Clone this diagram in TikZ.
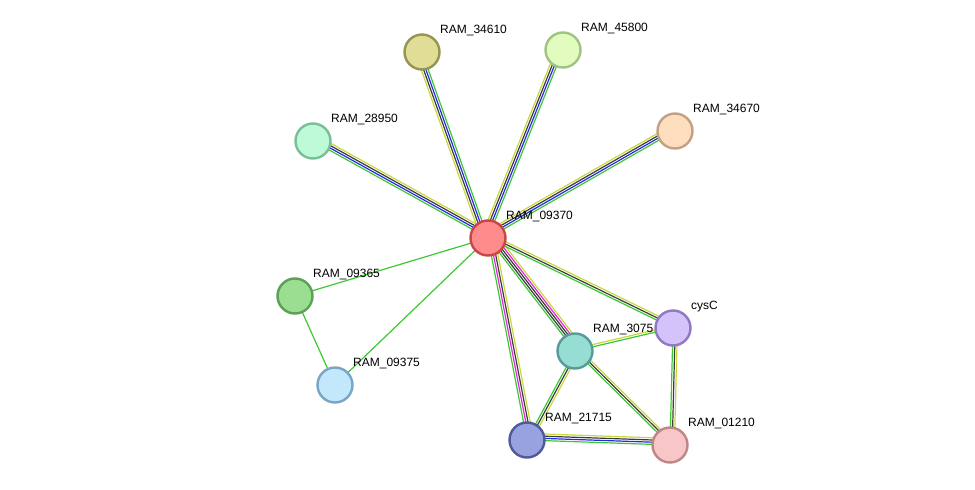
\documentclass[tikz,border=0pt]{standalone}
\usepackage{fontspec}
\setmainfont{Liberation Sans}
\usetikzlibrary{calc}

\definecolor{lgreen}{RGB}{60,200,50}
\definecolor{lyellow}{RGB}{200,215,60}
\definecolor{lblue}{RGB}{40,40,230}
\definecolor{lgrey}{RGB}{60,60,60}
\definecolor{lpink}{RGB}{230,40,220}

\tikzset{
    prot/.style={circle, draw, line width=2.4pt, minimum size=35pt, inner sep=0pt},
    lbl/.style={font=\fontsize{12}{14}\selectfont, anchor=south west, inner sep=1pt},
}
% parallel coloured lines between two nodes
\newcommand{\link}[3]{%
    \foreach \c [count=\i] in {#3} {%
        \pgfmathsetmacro{\off}{(\i-1)*2.2}
        \draw[\c, line width=1.2pt] ($(#1)!\off pt!90:(#2)$) -- ($(#2)!\off pt!-90:(#1)$);
    }%
}

\begin{document}
\begin{tikzpicture}[x=1pt, y=-1pt]
    \useasboundingbox (0,0) rectangle (975,490);
    \coordinate (c09370) at (488,238);
    \coordinate (c34610) at (422,52);
    \coordinate (c45800) at (563,50);
    \coordinate (c34670) at (675,131);
    \coordinate (c28950) at (313,141);
    \coordinate (c09365) at (295,296);
    \coordinate (c09375) at (335,385);
    \coordinate (c3075) at (575,351);
    \coordinate (ccysC) at (673,328);
    \coordinate (c21715) at (527,440);
    \coordinate (c01210) at (670,445);

    % edges
    \link{c09370}{c34610}{lgreen,lblue,lgrey,lyellow}
    \link{c09370}{c45800}{lgreen,lblue,lgrey,lyellow}
    \link{c09370}{c34670}{lgreen,lblue,lgrey,lyellow}
    \link{c28950}{c09370}{lgreen,lblue,lgrey,lyellow}
    \link{c09370}{c09365}{lgreen}
    \link{c09370}{c09375}{lgreen}
    \link{c09365}{c09375}{lgreen}
    \link{c09370}{c3075}{lgreen,lgrey,lgrey,lpink,lyellow}
    \link{c09370}{c21715}{lgreen,lpink,lgrey,lyellow}
    \link{c09370}{ccysC}{lgreen,lgrey,lyellow}
    \link{c3075}{ccysC}{lgreen,lyellow}
    \link{c3075}{c21715}{lgreen,lgrey,lyellow}
    \link{c3075}{c01210}{lgreen,lgrey,lyellow}
    \link{ccysC}{c01210}{lgreen,lgrey,lyellow}
    \link{c21715}{c01210}{lgreen,lblue,lgrey,lyellow}

    % proteins
    \node[prot, fill={rgb,255:red,255;green,140;blue,140}, draw={rgb,255:red,200;green,70;blue,70}] (09370) at (c09370) {};
    \node[prot, fill={rgb,255:red,223;green,221;blue,150}, draw={rgb,255:red,150;green,148;blue,80}] (34610) at (c34610) {};
    \node[prot, fill={rgb,255:red,225;green,252;blue,190}, draw={rgb,255:red,160;green,195;blue,130}] (45800) at (c45800) {};
    \node[prot, fill={rgb,255:red,255;green,222;blue,192}, draw={rgb,255:red,195;green,160;blue,130}] (34670) at (c34670) {};
    \node[prot, fill={rgb,255:red,190;green,250;blue,215}, draw={rgb,255:red,120;green,190;blue,150}] (28950) at (c28950) {};
    \node[prot, fill={rgb,255:red,155;green,222;blue,145}, draw={rgb,255:red,90;green,160;blue,85}] (09365) at (c09365) {};
    \node[prot, fill={rgb,255:red,195;green,232;blue,252}, draw={rgb,255:red,120;green,165;blue,195}] (09375) at (c09375) {};
    \node[prot, fill={rgb,255:red,150;green,222;blue,212}, draw={rgb,255:red,85;green,155;blue,150}] (3075) at (c3075) {};
    \node[prot, fill={rgb,255:red,212;green,195;blue,250}, draw={rgb,255:red,145;green,120;blue,195}] (cysC) at (ccysC) {};
    \node[prot, fill={rgb,255:red,152;green,162;blue,222}, draw={rgb,255:red,80;green,90;blue,155}] (21715) at (c21715) {};
    \node[prot, fill={rgb,255:red,248;green,198;blue,198}, draw={rgb,255:red,190;green,135;blue,135}] (01210) at (c01210) {};

    % labels
    \node[lbl] (t09370) at ($(09370)+(17,-15)$) {RAM\_09370};
    \node[lbl] (t34610) at ($(34610)+(17,-15)$) {RAM\_34610};
    \node[lbl] (t45800) at ($(45800)+(17,-15)$) {RAM\_45800};
    \node[lbl] (t34670) at ($(34670)+(17,-15)$) {RAM\_34670};
    \node[lbl] (t28950) at ($(28950)+(17,-15)$) {RAM\_28950};
    \node[lbl] (t09365) at ($(09365)+(17,-15)$) {RAM\_09365};
    \node[lbl] (t09375) at ($(09375)+(17,-15)$) {RAM\_09375};
    \node[lbl] (t3075) at ($(3075)+(17,-15)$) {RAM\_3075};
    \node[lbl] (tcysC) at ($(cysC)+(17,-15)$) {cysC};
    \node[lbl] (t21715) at ($(21715)+(17,-15)$) {RAM\_21715};
    \node[lbl] (t01210) at ($(01210)+(17,-15)$) {RAM\_01210};
\end{tikzpicture}
\end{document}
